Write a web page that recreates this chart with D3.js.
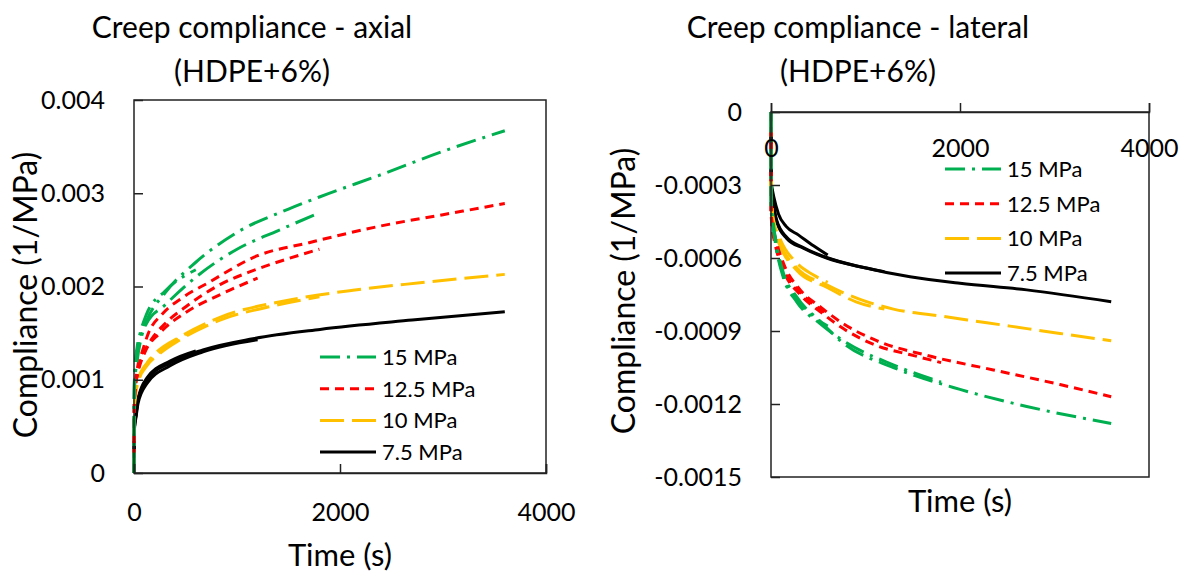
<!DOCTYPE html>
<html>
<head>
<meta charset="utf-8">
<script src="https://cdn.jsdelivr.net/npm/d3@7"></script>
<style>
  html, body { margin: 0; padding: 0; background: #fff; }
  svg { display: block; font-family: Lato, "Open Sans", sans-serif; }
</style>
</head>
<body>
<svg width="1186" height="573"></svg>
<script>
// stress levels, legend order
const stressLabels = ["15 MPa", "12.5 MPa", "10 MPa", "7.5 MPa"];
const stressColors = ["#00B050", "#FF0000", "#FFC000", "#000000"];
const stressDash = ["20,7,3,7", "9,6", "24,8", null];

const xTicks = [0, 2000, 4000];
const axialTicks = [0, 0.001, 0.002, 0.003, 0.004];
const lateralTicks = [0, -0.0003, -0.0006, -0.0009, -0.0012, -0.0015];

// axial compliance, [time s, compliance 1/MPa], replicates per stress
const axial15 = [
  [[0,0],[2,0.0009],[10,0.0011],[30,0.0013],[60,0.00145],[120,0.00163],[300,0.00193],[600,0.00226],[1000,0.00258],[1500,0.00283],[1800,0.00296],[2400,0.0032],[3000,0.00345],[3600,0.00367]],
  [[0,0],[2,0.0008],[10,0.001],[30,0.0012],[60,0.0014],[120,0.0016],[300,0.0018],[600,0.0021],[1000,0.0024],[1400,0.0026],[1800,0.00279]],
  [[0,0],[2,0.0009],[10,0.00115],[30,0.00135],[60,0.0015],[120,0.0017],[300,0.00195],[600,0.00218]]
];
const axial12_5 = [
  [[0,0],[2,0.0007],[10,0.0009],[30,0.0011],[80,0.0013],[140,0.0015],[270,0.0017],[470,0.00188],[720,0.00204],[1200,0.00233],[1700,0.00247],[2400,0.00265],[3000,0.00277],[3600,0.00289]],
  [[0,0],[2,0.0007],[10,0.0009],[30,0.00105],[80,0.00125],[150,0.0014],[300,0.0016],[500,0.00178],[835,0.00202],[1155,0.00217],[1500,0.0023],[1800,0.0024]],
  [[0,0],[2,0.0007],[10,0.00088],[40,0.00108],[100,0.00128],[250,0.0015],[500,0.00172],[850,0.00192],[1200,0.00209]]
];
const axial10 = [
  [[0,0],[2,0.0006],[10,0.00085],[40,0.001],[126,0.00118],[223,0.0013],[447,0.00146],[835,0.00167],[1485,0.00185],[2126,0.00196],[2777,0.00204],[3600,0.00213]],
  [[0,0],[2,0.00055],[10,0.0008],[40,0.00097],[126,0.00115],[250,0.00128],[450,0.00143],[835,0.00164],[1300,0.00178],[1800,0.00189]],
  [[0,0],[2,0.0006],[10,0.00083],[40,0.00099],[126,0.00117],[250,0.0013],[450,0.00145],[600,0.00154]]
];
const axial7_5 = [
  [[0,0],[1,0.0003],[5,0.0005],[19,0.00062],[39,0.00078],[126,0.001],[350,0.00118],[670,0.00132],[1155,0.00144],[1806,0.00154],[2700,0.00164],[3600,0.00173]],
  [[0,0],[1,0.0003],[5,0.00048],[20,0.0006],[40,0.00075],[126,0.00096],[350,0.00115],[670,0.0013],[1200,0.00143]],
  [[0,0],[1,0.0003],[5,0.0005],[20,0.00063],[40,0.0008],[126,0.00102],[350,0.0012],[600,0.00131]]
];

// lateral compliance
const lateral15 = [
  [[0,0],[1,-0.00038],[25,-0.00046],[60,-0.00055],[130,-0.00066],[272,-0.00076],[519,-0.00086],[765,-0.00095],[1295,-0.00105],[2000,-0.00114],[2706,-0.00121],[3600,-0.00128]],
  [[0,0],[1,-0.0004],[25,-0.00048],[60,-0.00057],[130,-0.00068],[272,-0.00078],[519,-0.00087],[765,-0.00094],[1300,-0.00104],[1800,-0.00111]],
  [[0,0],[1,-0.00037],[25,-0.00047],[60,-0.00056],[130,-0.00067],[272,-0.00077],[450,-0.00084],[600,-0.00088]]
];
const lateral12_5 = [
  [[0,0],[1,-0.0004],[10,-0.00045],[42,-0.00051],[130,-0.00062],[307,-0.00073],[519,-0.0008],[765,-0.00087],[1118,-0.00094],[1647,-0.001],[2353,-0.00106],[3058,-0.00112],[3600,-0.00117]],
  [[0,0],[1,-0.00041],[10,-0.00047],[42,-0.00054],[130,-0.00065],[307,-0.00075],[519,-0.00082],[765,-0.00089],[1118,-0.00096],[1500,-0.001],[1800,-0.00103]],
  [[0,0],[1,-0.0004],[10,-0.00046],[42,-0.00053],[130,-0.00064],[307,-0.00074],[450,-0.00079],[600,-0.00083]]
];
const lateral10 = [
  [[0,0],[1,-0.00034],[10,-0.0004],[25,-0.00046],[95,-0.00054],[272,-0.00064],[589,-0.00071],[942,-0.00077],[1295,-0.00081],[1824,-0.00084],[2529,-0.00088],[3058,-0.00091],[3600,-0.00094]],
  [[0,0],[1,-0.00035],[10,-0.00041],[25,-0.00047],[95,-0.00055],[272,-0.00065],[589,-0.00072],[900,-0.00078],[1200,-0.00081]],
  [[0,0],[1,-0.00033],[10,-0.00039],[25,-0.00044],[95,-0.00052],[272,-0.00062],[450,-0.00067],[600,-0.0007]]
];
const lateral7_5 = [
  [[0,0],[1,-0.0003],[7,-0.00033],[25,-0.00038],[60,-0.00045],[166,-0.00052],[342,-0.00056],[589,-0.0006],[942,-0.000636],[1471,-0.000677],[2000,-0.000704],[2706,-0.000731],[3600,-0.00078]],
  [[0,0],[1,-0.00029],[10,-0.00031],[30,-0.00035],[80,-0.00042],[160,-0.00047],[289,-0.000505],[450,-0.00055],[600,-0.000588]],
  [[0,0],[1,-0.0003],[8,-0.000325],[25,-0.000375],[60,-0.000445],[166,-0.000515],[342,-0.000557],[589,-0.000598],[900,-0.000632],[1200,-0.000656]]
];

const svg = d3.select("svg");

// Excel-style labels with a plain hyphen for negatives
const numFmt = (d) => (d === 0 ? "0" : String(+d.toPrecision(3)));

function drawPanel(p) {
  const g = svg.append("g");
  const x = d3.scaleLinear().domain([0, 4000]).range(p.xRange);
  const y = d3.scaleLinear().domain(p.yDomain).range(p.yRange);

  const line = d3.line()
    .x((d) => x(d[0]))
    .y((d) => y(d[1]))
    .curve(d3.curveMonotoneX);

  // series drawn from lowest stress up, so green ends on top
  [3, 2, 1, 0].forEach((i) => {
    p.series[i].forEach((curve) => {
      g.append("path")
        .datum(curve)
        .attr("d", line)
        .attr("fill", "none")
        .attr("stroke", stressColors[i])
        .attr("stroke-width", 3)
        .attr("stroke-dasharray", stressDash[i]);
    });
  });

  // plot frame
  g.append("rect")
    .attr("x", p.xRange[0])
    .attr("y", Math.min(...p.yRange))
    .attr("width", p.xRange[1] - p.xRange[0])
    .attr("height", Math.abs(p.yRange[1] - p.yRange[0]))
    .attr("fill", "none")
    .attr("stroke", "#222")
    .attr("stroke-width", 1.5);

  // y axis: inward ticks, labels on the left
  const yAxis = g.append("g")
    .attr("transform", `translate(${p.xRange[0]},0)`)
    .call(d3.axisLeft(y).tickValues(p.yTicks).tickSize(-9).tickPadding(29).tickFormat(numFmt));
  yAxis.select(".domain").remove();
  yAxis.selectAll(".tick line").attr("stroke", "#222").attr("stroke-width", 1.5);
  yAxis.selectAll("text").attr("font-size", 25).attr("fill", "#000")
    .attr("font-family", "Lato, sans-serif");

  // x axis at y = 0
  const xAxisG = g.append("g").attr("transform", `translate(0,${y(0)})`);
  if (p.xTop) {
    xAxisG.call(d3.axisTop(x).tickValues(xTicks).tickSize(9).tickFormat(d3.format("d")));
    xAxisG.selectAll(".tick text").attr("y", 45);
  } else {
    xAxisG.call(d3.axisBottom(x).tickValues(xTicks).tickSize(-9).tickPadding(30).tickFormat(d3.format("d")));
  }
  xAxisG.select(".domain").attr("stroke", "#222").attr("stroke-width", 1.5);
  xAxisG.selectAll(".tick line").attr("stroke", "#222").attr("stroke-width", 1.5);
  xAxisG.selectAll("text").attr("font-size", 25).attr("fill", "#000")
    .attr("font-family", "Lato, sans-serif");

  // titles
  p.title.forEach((t, i) => {
    svg.append("text")
      .attr("x", p.titleX)
      .attr("y", 38 + i * 44)
      .attr("text-anchor", "middle")
      .attr("font-size", 30)
      .text(t);
  });

  svg.append("text")
    .attr("x", (p.xRange[0] + p.xRange[1]) / 2)
    .attr("y", p.xLabelY)
    .attr("text-anchor", "middle")
    .attr("font-size", 31)
    .text("Time (s)");

  svg.append("text")
    .attr("transform", `translate(${p.yLabelX},${p.yLabelY}) rotate(-90)`)
    .attr("text-anchor", "middle")
    .attr("font-size", 32)
    .text("Compliance (1/MPa)");

  // legend
  const leg = svg.append("g");
  stressLabels.forEach((lab, i) => {
    const ly = p.legendY + i * p.legendStep;
    leg.append("line")
      .attr("x1", p.legendX).attr("x2", p.legendX + 56)
      .attr("y1", ly).attr("y2", ly)
      .attr("stroke", stressColors[i])
      .attr("stroke-width", 3)
      .attr("stroke-dasharray", stressDash[i]);
    leg.append("text")
      .attr("x", p.legendX + 62)
      .attr("y", ly + 8)
      .attr("font-size", 22)
      .text(lab);
  });
}

drawPanel({
  series: [axial15, axial12_5, axial10, axial7_5],
  xRange: [134, 546],
  yDomain: [0, 0.004],
  yRange: [473, 100],
  yTicks: axialTicks,
  xTop: false,
  title: ["Creep compliance - axial", "(HDPE+6%)"],
  titleX: 252,
  xLabelY: 566,
  yLabelX: 37,
  yLabelY: 295,
  legendX: 320,
  legendY: 357,
  legendStep: 31.7
});

drawPanel({
  series: [lateral15, lateral12_5, lateral10, lateral7_5],
  xRange: [771, 1149],
  yDomain: [-0.0015, 0],
  yRange: [477, 112],
  yTicks: lateralTicks,
  xTop: true,
  title: ["Creep compliance - lateral", "(HDPE+6%)"],
  titleX: 858,
  xLabelY: 512,
  yLabelX: 635,
  yLabelY: 291,
  legendX: 945,
  legendY: 169,
  legendStep: 34.7
});
</script>
</body>
</html>
